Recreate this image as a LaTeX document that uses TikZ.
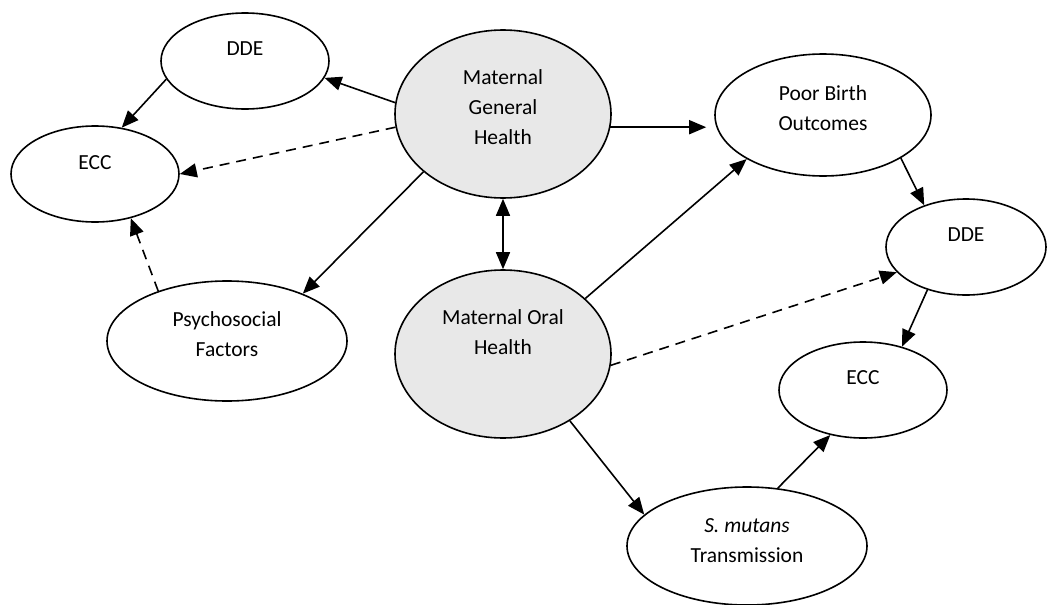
\documentclass[tikz,border=0pt]{standalone}
\usepackage{fontspec}
\setmainfont{Carlito}
\usetikzlibrary{arrows.meta,shapes.geometric}
\definecolor{mgrey}{HTML}{E8E8E8}

\begin{document}
\begin{tikzpicture}[x=1pt,y=-1pt,-{Triangle[length=17pt,width=14pt]},line width=1.6pt,
  every label/.style={font=\fontsize{21.5}{30}\selectfont,align=center},
  bubble/.style={ellipse,draw,inner sep=0pt},
  mother/.style={bubble,fill=mgrey,minimum width=216pt,minimum height=168pt}]
  \useasboundingbox (0,0) rectangle (1047,605);

  \node[mother,label={[yshift=7pt]center:{Maternal\\General\\Health}}]      (mgh)  at (503,114) {};
  \node[mother,label={[yshift=22pt]center:{Maternal Oral\\Health}}]         (moh)  at (503,354) {};
  \node[bubble,minimum width=168pt,minimum height=96pt,label={[yshift=12pt]center:DDE}] (ddeA) at (245,61) {};
  \node[bubble,minimum width=168pt,minimum height=96pt,label={[yshift=11pt]center:ECC}] (eccA) at (95,174) {};
  \node[bubble,minimum width=240pt,minimum height=120pt,label={[yshift=7pt]center:{Psychosocial\\Factors}}] (psy) at (227,341) {};
  \node[bubble,minimum width=216pt,minimum height=122pt,label={[yshift=7pt]center:{Poor Birth\\Outcomes}}] (pbo) at (823,115) {};
  \node[bubble,minimum width=160pt,minimum height=96pt,label={[yshift=12pt]center:DDE}] (ddeB) at (966,247) {};
  \node[bubble,minimum width=168pt,minimum height=96pt,label={[yshift=12pt]center:ECC}] (eccB) at (863,390) {};
  \node[bubble,minimum width=240pt,minimum height=118pt,label={[yshift=5pt]center:{\textit{S. mutans}\\Transmission}}] (smu) at (747,546) {};

  \path (mgh.174)  edge (ddeA.348)
        (mgh.187)  edge[dashed,dash pattern=on 10pt off 7pt] (eccA.0)
        (mgh.216)  edge (psy.32)
        (mgh.353)  edge[shorten >=8pt] (mgh.353 -| pbo.west)
        (mgh.south) edge[{Triangle[length=17pt,width=14pt]}-{Triangle[length=17pt,width=14pt]}] (moh.north)
        (ddeA.193) edge (eccA.60)
        (psy.144)  edge[dashed,dash pattern=on 10pt off 7pt] (eccA.309)
        (moh.34)   edge (pbo.210)
        (moh.354)  edge[dashed,dash pattern=on 10pt off 7pt] (ddeB.200)
        (moh.315)  edge (smu.163)
        (pbo.331)  edge (ddeB.135)
        (ddeB.228) edge (eccB.48)
        (smu.62)   edge (eccB.234);
\end{tikzpicture}
\end{document}
